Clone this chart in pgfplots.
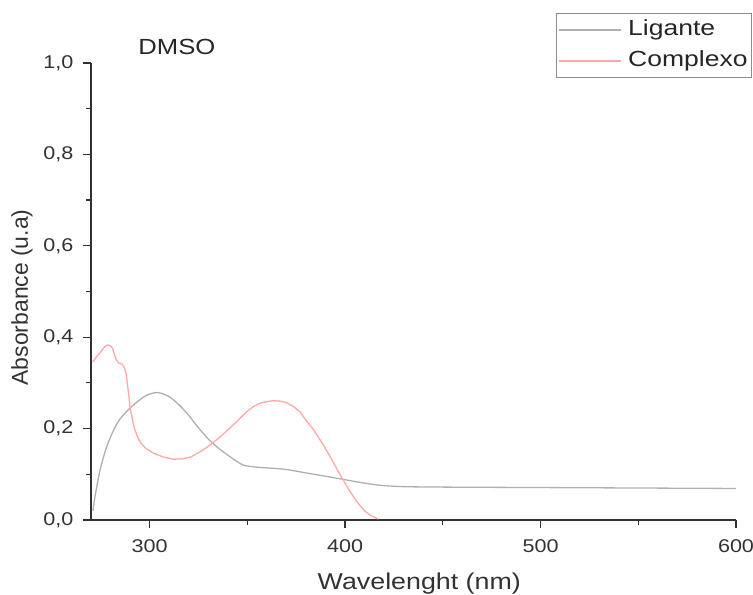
\documentclass[border=0pt]{standalone}
\usepackage{fontspec}
\setmainfont{Liberation Sans}[FakeStretch=1.17]
\newfontfamily\ylabfont{Liberation Sans}
\newfontfamily\legfont{Liberation Sans}[FakeStretch=1.21]
\usepackage{pgfplots}
\pgfplotsset{compat=1.18}
\definecolor{ligcol}{RGB}{175,175,175}
\definecolor{comcol}{RGB}{255,168,168}
\definecolor{axcol}{RGB}{50,50,50}

\begin{document}
\begin{tikzpicture}
\useasboundingbox (-91bp,-75bp) rectangle (662bp,520bp);
\begin{axis}[
    scale only axis,
    width=645bp,
    height=457bp,
    xmin=270, xmax=600,
    ymin=0, ymax=1,
    clip=false,
    axis x line*=bottom,
    axis y line*=left,
    axis line style={draw=axcol, line width=1.2bp},
    tick align=outside,
    xtick={300,400,500,600},
    minor xtick={350,450,550},
    ytick={0,0.2,0.4,0.6,0.8,1.0},
    minor ytick={0.1,0.3,0.5,0.7,0.9},
    major tick length=8bp,
    minor tick length=5bp,
    every tick/.style={draw=axcol, line width=1.2bp},
    /pgf/number format/assume math mode=true,
    tick label style={font=\fontsize{18.5}{22}\selectfont, text=axcol},
    x tick label style={yshift=-8bp},
    y tick label style={xshift=-6bp, /pgf/number format/.cd, fixed, fixed zerofill, precision=1, use comma, /tikz/.cd},
    xlabel={Wavelenght (nm)},
    xlabel style={font=\fontsize{23}{27}\selectfont, text=axcol, at={(axis description cs:0.509,-0.151)}, anchor=base},
    ylabel={Absorbance (u.a)},
    ylabel style={font=\ylabfont\fontsize{23}{27}\selectfont, text=axcol, at={(axis description cs:-0.0977,0.487)}, anchor=base},
    legend cell align=left,
    legend image code/.code={\draw[#1] (0bp,0bp) -- (62bp,0bp);},
    legend style={at={(axis description cs:1.0248,1.1094)}, anchor=north east,
        draw=black!45, line width=0.8bp, inner xsep=2bp, inner ysep=2bp,
        column sep=5bp, row sep=2bp,
        font=\legfont\fontsize{22}{26}\selectfont, text=black!85,
        nodes={text height=16bp, text depth=5bp, inner ysep=4bp}},
]
\addplot[color=ligcol, line width=1.3bp, smooth] coordinates {
    (271,0.02) (272,0.05) (273.5,0.085) (275,0.116) (278,0.16) (281.6,0.197)
    (285,0.222) (290,0.245) (295,0.263) (299,0.274) (304,0.279) (308,0.274)
    (311,0.267) (315,0.252) (319,0.234) (324,0.207) (329.6,0.179) (335,0.158)
    (340,0.142) (344,0.13) (348,0.12) (354,0.116) (360,0.114) (367,0.112)
    (373.6,0.108) (380,0.103) (387,0.098) (397.6,0.09) (408,0.082) (418,0.076)
    (430,0.073) (450,0.072) (500,0.071) (550,0.070) (600,0.069)
};
\addlegendentry{Ligante}
\addplot[color=comcol, line width=1.3bp] coordinates {
    (271,0.346) (273,0.358) (275,0.368) (277,0.379) (278.5,0.383) (280,0.381)
    (281,0.376) (282.6,0.354) (284,0.344) (286,0.341) (287,0.333) (288,0.32)
    (289,0.285) (290,0.247) (292,0.203) (294,0.18) (295.6,0.168) (298,0.157)
    (302,0.146) (307,0.138) (312,0.133) (317,0.134) (321,0.138) (325,0.147)
    (329.6,0.16) (335,0.178) (340,0.197) (344,0.213) (348,0.23) (350,0.238)
    (353,0.248) (356.7,0.256) (360,0.259) (363,0.261) (367,0.26) (370.5,0.256)
    (374,0.247) (377,0.236) (380,0.218) (384,0.197) (388,0.17) (392.5,0.138)
    (396,0.11) (399,0.088) (402,0.066) (406,0.04) (410,0.02) (413,0.01) (417,0.002)
};
\addlegendentry{Complexo}
\node[anchor=base west, font=\fontsize{22}{26}\selectfont, text=black!85] at (axis description cs:0.068,1.0175) {DMSO};
\end{axis}
\end{tikzpicture}
\end{document}
